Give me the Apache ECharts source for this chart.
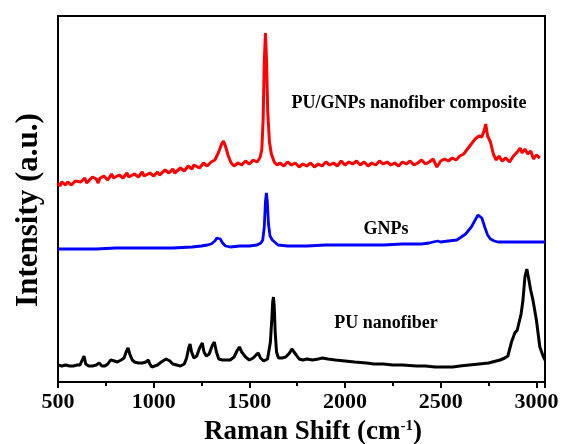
<!DOCTYPE html>
<html>
<head>
<meta charset="utf-8">
<script src="https://cdn.jsdelivr.net/npm/echarts@6/dist/echarts.min.js"></script>
<style>
  body, html { margin: 0; padding: 0; background: #fff; }
  #chart { width: 565px; height: 444px; }
</style>
</head>
<body>
<div id="chart"></div>
<script>
// x ticks (Raman shift, cm-1)
var xTicks = [500, 1000, 1500, 2000, 2500, 3000];

// PU/GNPs nanofiber composite (offset, a.u.)
var compShift = [500,510,520,530,540,550,560,570,580,590,600,620,640,650,660,680,700,710,720,730,740,760,780,790,800,820,840,860,870,880,900,920,940,950,960,980,1000,1020,1030,1040,1060,1080,1100,1110,1120,1140,1160,1180,1200,1210,1220,1240,1260,1280,1300,1320,1340,1355,1365,1375,1390,1405,1420,1440,1460,1480,1500,1520,1540,1555,1565,1572,1578,1584,1590,1596,1605,1615,1630,1645,1660,1680,1700,1720,1740,1760,1780,1800,1820,1840,1860,1880,1900,1920,1940,1960,1980,2000,2020,2040,2060,2080,2100,2120,2140,2160,2180,2200,2220,2240,2260,2280,2300,2320,2340,2360,2380,2400,2420,2440,2460,2480,2500,2520,2540,2560,2580,2600,2620,2640,2660,2680,2700,2715,2728,2735,2745,2760,2775,2790,2805,2820,2840,2860,2880,2900,2915,2925,2940,2955,2970,2985,3000,3018];
var compInt = [199,196,200,198,197,200,201,197,198,201,202,200,204,199,201,205,203,199,204,203,206,202,208,204,205,207,204,209,205,206,208,205,210,206,207,209,206,210,207,208,212,209,213,209,210,214,211,216,213,217,217,214,219,216,220,222,230,238,241,236,226,219,216,219,217,221,218,222,220,224,232,262,320,349,320,270,240,228,220,217,219,216,220,217,219,215,218,216,219,215,218,216,220,217,219,216,221,217,220,218,221,217,220,216,219,217,221,218,220,217,219,216,220,218,221,217,219,222,218,220,223,215,221,223,221,224,222,226,228,233,238,243,246,245,252,258,246,240,228,222,226,221,224,220,226,230,234,229,233,228,231,223,227,224];

// GNPs
var gnpShift = [500,600,700,800,900,1000,1100,1200,1250,1280,1300,1320,1330,1338,1348,1360,1375,1400,1450,1500,1540,1560,1570,1578,1584,1589,1594,1600,1608,1620,1630,1650,1700,1800,1900,2000,2100,2200,2300,2400,2440,2460,2484,2500,2540,2584,2600,2630,2660,2680,2695,2704,2715,2730,2745,2760,2780,2800,2850,2900,2950,3000,3045];
var gnpInt = [133,133,133,134,134,134,134,135,136,137,138,141,144,145,143,139,136,135,136,136,137,139,142,155,180,189,180,158,146,142,140,137,136,136,137,137,137,137,138,138,139,140,141,140,141,142,144,148,155,162,167,169,164,155,147,143,141,140,140,140,140,140,140];

// PU nanofiber
var puShift = [500,520,540,560,580,600,615,625,636,645,660,680,700,715,730,745,760,775,783,795,810,830,845,856,866,875,888,900,920,940,960,972,980,990,1000,1020,1040,1065,1085,1100,1120,1140,1160,1172,1183,1190,1198,1210,1225,1240,1254,1263,1275,1290,1305,1317,1328,1340,1360,1380,1400,1420,1435,1448,1460,1480,1500,1520,1535,1547,1558,1575,1595,1610,1618,1622,1626,1630,1635,1642,1652,1670,1690,1710,1722,1731,1745,1760,1780,1800,1830,1860,1882,1910,1950,2000,2050,2112,2150,2200,2250,2300,2374,2420,2470,2520,2563,2600,2650,2700,2750,2790,2810,2835,2851,2870,2887,2900,2908,2920,2930,2940,2950,2960,2970,2982,3000,3018,3035,3045];
var puInt = [17,16,17,16,16,17,17,19,26,18,16,16,17,19,16,16,18,22,24,21,20,22,24,30,34,28,22,20,19,19,20,22,18,15,15,17,20,23,21,18,17,16,18,24,34,38,30,24,26,34,39,30,26,28,36,40,30,23,22,22,22,25,31,35,30,25,22,24,27,29,24,21,23,40,65,80,85,75,50,30,24,24,25,29,33,33,27,23,22,23,22,23,24,23,22,21,20,19,18,18,17,17,16,16,15,15,15,16,17,18,19,21,22,24,26,40,49,52,54,68,82,105,113,103,92,82,62,35,26,22];

function pairs(xs, ys) {
  return xs.map(function (x, i) { return [x, ys[i]]; });
}

var font = "'Liberation Serif', 'Times New Roman', serif";
var chart = echarts.init(document.getElementById('chart'));

chart.setOption({
  animation: false,
  backgroundColor: '#fff',
  grid: { left: 58, right: 20, top: 16, bottom: 62, show: true, borderColor: '#000', borderWidth: 2 },
  xAxis: {
    type: 'value', min: 500, max: 3045, interval: 500,
    axisLine: { lineStyle: { color: '#000', width: 2 } },
    axisTick: { length: 6, lineStyle: { color: '#000', width: 2 } },
    minorTick: { show: true, splitNumber: 2, length: 4, lineStyle: { color: '#000', width: 2 } },
    splitLine: { show: false },
    axisLabel: {
      color: '#000', fontFamily: font, fontWeight: 'bold', fontSize: 22, margin: 9,
      showMaxLabel: false,
      formatter: function (v) { return xTicks.indexOf(v) >= 0 ? String(v) : ''; }
    }
  },
  yAxis: {
    type: 'value', min: 0, max: 366,
    axisLine: { show: true, lineStyle: { color: '#000', width: 2 } },
    axisTick: { show: false }, axisLabel: { show: false }, splitLine: { show: false }
  },
  graphic: [
    { type: 'text', x: 29, y: 210, rotation: Math.PI / 2,
      style: { text: 'Intensity (a.u.)', fill: '#000', font: 'bold 31px ' + font, align: 'center', verticalAlign: 'middle' } },
    { type: 'text', x: 313, y: 432,
      style: { text: '{a|Raman Shift (cm}{b|-1}{a|)}', fill: '#000', align: 'center', verticalAlign: 'middle',
        rich: {
          a: { fontFamily: font, fontWeight: 'bold', fontSize: 27, fill: '#000', verticalAlign: 'bottom' },
          b: { fontFamily: font, fontWeight: 'bold', fontSize: 15, fill: '#000', verticalAlign: 'top' }
        } } },
    { type: 'text', x: 409, y: 103,
      style: { text: 'PU/GNPs nanofiber composite', fill: '#000', font: 'bold 18px ' + font, align: 'center', verticalAlign: 'middle' } },
    { type: 'text', x: 386, y: 229,
      style: { text: 'GNPs', fill: '#000', font: 'bold 18px ' + font, align: 'center', verticalAlign: 'middle' } },
    { type: 'text', x: 386, y: 323,
      style: { text: 'PU nanofiber', fill: '#000', font: 'bold 18px ' + font, align: 'center', verticalAlign: 'middle' } }
  ],
  series: [
    { name: 'PU/GNPs nanofiber composite', type: 'line', data: pairs(compShift, compInt), showSymbol: false,
      lineStyle: { color: '#ff0000', width: 3 }, z: 3 },
    { name: 'GNPs', type: 'line', data: pairs(gnpShift, gnpInt), showSymbol: false,
      lineStyle: { color: '#0000ff', width: 2.8 }, z: 3 },
    { name: 'PU nanofiber', type: 'line', data: pairs(puShift, puInt), showSymbol: false,
      lineStyle: { color: '#000', width: 3 }, z: 3 }
  ]
});
</script>
</body>
</html>
